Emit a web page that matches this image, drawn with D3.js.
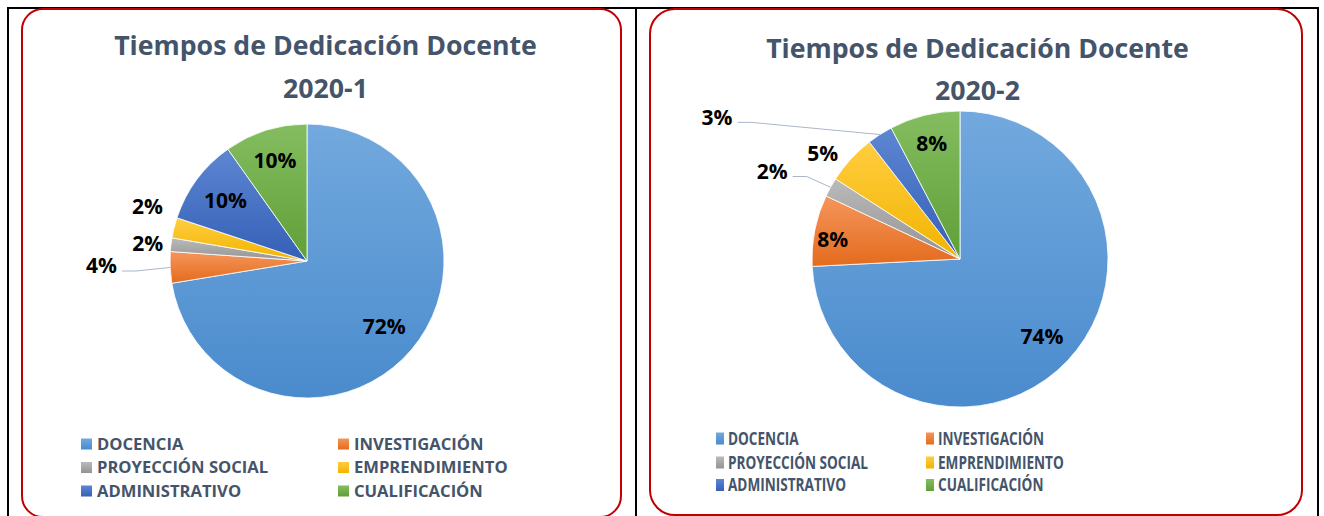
<!DOCTYPE html>
<html>
<head>
<meta charset="utf-8">
<script src="https://cdn.jsdelivr.net/npm/d3@7"></script>
<style>
  body { margin: 0; background: #fff; }
  svg { display: block; font-family: "Open Sans", sans-serif; }
</style>
</head>
<body>
<svg id="chart" width="1324" height="516"></svg>
<script>
const categories = ["DOCENCIA", "INVESTIGACIÓN", "PROYECCIÓN SOCIAL", "EMPRENDIMIENTO", "ADMINISTRATIVO", "CUALIFICACIÓN"];
const values2020_1 = [72.4, 3.7, 1.6, 2.4, 10.1, 9.8];
const values2020_2 = [74.2, 7.8, 2.1, 5.4, 2.8, 7.7];
const titleLine = "Tiempos de Dedicación Docente";
const periods = ["2020-1", "2020-2"];

// light top / dark bottom like the office gradient fill
const colorTop = ["#72a9de", "#f5965b", "#bababa", "#ffcd40", "#5d86d2", "#84bd60"];
const colorBottom = ["#4a8bcd", "#e36b1d", "#939393", "#f2b400", "#3460b6", "#609f38"];

const svg = d3.select("#chart");
const defs = svg.append("defs");

categories.forEach((c, i) => {
  const g = defs.append("linearGradient")
    .attr("id", "grad" + i)
    .attr("x1", 0).attr("y1", 0).attr("x2", 0).attr("y2", 1);
  g.append("stop").attr("offset", "0%").attr("stop-color", colorTop[i]);
  g.append("stop").attr("offset", "100%").attr("stop-color", colorBottom[i]);
});

// table borders
svg.append("line").attr("x1", 8).attr("x2", 1318).attr("y1", 8).attr("y2", 8)
  .attr("stroke", "#000").attr("stroke-width", 2);
[8, 636, 1318].forEach(x => {
  svg.append("line").attr("x1", x).attr("x2", x).attr("y1", 7).attr("y2", 516)
    .attr("stroke", "#000").attr("stroke-width", 2);
});

const panels = [
  {
    values: values2020_1, period: periods[0],
    box: { x: 22, y: 9, w: 599, h: 508, r: 21 },
    cx: 307, cy: 261, r: 137,
    titleX: 325.5, titleY: [55, 98],
    legendX: [81, 338], legendY: [444, 467.5, 491],
    sqW: 11, sqH: 11, legendFont: 16.6, legendScale: 1, textGap: 16,
    // [radius factor, angle nudge in degrees]
    labelPos: [[0.74, 0], [1.5, 1.3], [1.17, -0.7], [1.23, 4.8], [0.74, 0], [0.77, 0]]
  },
  {
    values: values2020_2, period: periods[1],
    box: { x: 650, y: 9, w: 652, h: 506, r: 25 },
    cx: 960, cy: 259, r: 148,
    titleX: 977.5, titleY: [58, 100],
    legendX: [716, 926], legendY: [438.5, 462.5, 485],
    sqW: 8, sqH: 12, legendFont: 18, legendScale: 0.755, textGap: 12,
    labelPos: [[0.765, 0], [0.87, -2.7], [1.4, -4], [1.17, -5], [1.9, -27], [0.8, 0]]
  }
];

const fmt = d3.format(".0%");
const pie = d3.pie().sort(null).value(d => d);

panels.forEach(p => {
  const g = svg.append("g");

  g.append("rect")
    .attr("x", p.box.x).attr("y", p.box.y)
    .attr("width", p.box.w).attr("height", p.box.h)
    .attr("rx", p.box.r).attr("ry", p.box.r)
    .attr("fill", "none").attr("stroke", "#c00000").attr("stroke-width", 2);

  const title = g.append("text")
    .attr("text-anchor", "middle")
    .attr("fill", "#44546a")
    .style("font-size", "26.7px")
    .style("font-weight", "bold");
  title.append("tspan").attr("x", p.titleX).attr("y", p.titleY[0]).text(titleLine);
  title.append("tspan").attr("x", p.titleX).attr("y", p.titleY[1]).text(p.period);

  const arcs = pie(p.values);
  const arc = d3.arc().innerRadius(0).outerRadius(p.r);

  const pg = g.append("g").attr("transform", `translate(${p.cx},${p.cy})`);
  pg.selectAll("path")
    .data(arcs)
    .join("path")
    .attr("d", arc)
    .attr("fill", (d, i) => `url(#grad${i})`)
    .attr("stroke", "#fff")
    .attr("stroke-width", 0.8);

  const polar = (a, d) => [d * Math.sin(a), -d * Math.cos(a)];

  arcs.forEach((d, i) => {
    const mid = (d.startAngle + d.endAngle) / 2;
    const [f, nudge] = p.labelPos[i];
    const [lx, ly] = polar(mid + nudge * Math.PI / 180, f * p.r);
    const t = pg.append("text")
      .attr("x", lx).attr("y", ly).attr("dy", "0.35em")
      .attr("text-anchor", "middle")
      .style("font-size", "21px")
      .style("font-weight", "bold")
      .attr("fill", "#000")
      .text(fmt(d.value / 100));

    if (f > 1.3) {
      const bb = t.node().getBBox();
      const sx = bb.x + bb.width + 5;
      const sy = ly + 5;
      const [ex, ey] = polar(mid, p.r);
      pg.append("path")
        .attr("d", d3.line()([[sx, sy], [sx + 14, sy], [ex, ey]]))
        .attr("fill", "none")
        .attr("stroke", "#a9b6c8")
        .attr("stroke-width", 1);
    }
  });

  // legend, two columns
  const lg = g.append("g");
  categories.forEach((c, i) => {
    const col = i % 2, row = Math.floor(i / 2);
    const x = p.legendX[col], y = p.legendY[row];
    lg.append("rect")
      .attr("x", x).attr("y", y - p.sqH / 2)
      .attr("width", p.sqW).attr("height", p.sqH)
      .attr("fill", `url(#grad${i})`);
    lg.append("text")
      .attr("transform", `translate(${x + p.textGap},${y}) scale(${p.legendScale},1)`)
      .attr("dy", "0.36em")
      .attr("fill", "#44546a")
      .style("font-size", p.legendFont + "px")
      .style("font-weight", "bold")
      .text(c);
  });
});
</script>
</body>
</html>
